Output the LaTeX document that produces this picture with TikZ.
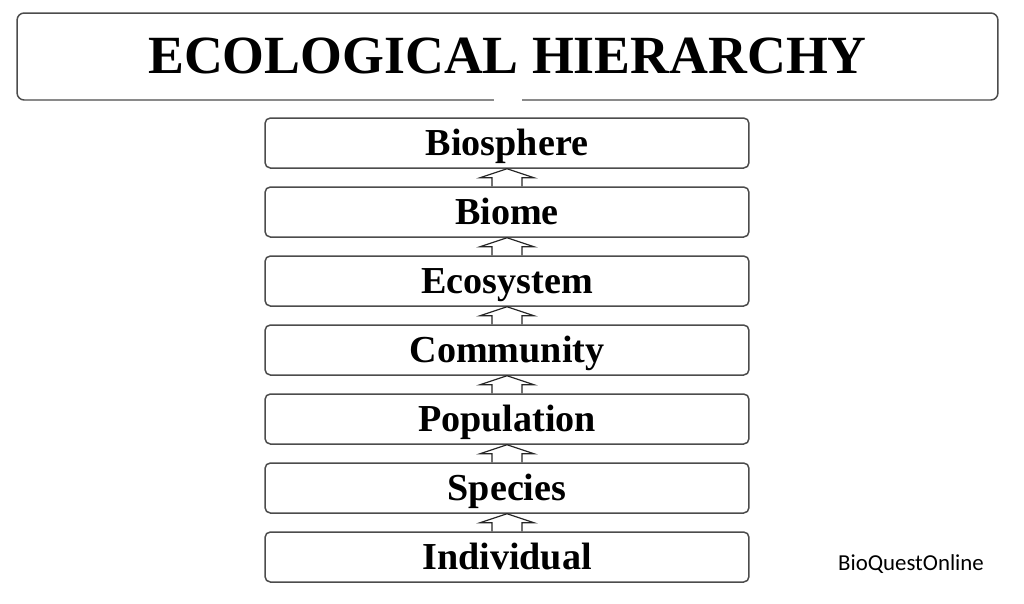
\documentclass[tikz,border=0pt]{standalone}
\usepackage{fontspec}
\setmainfont{Liberation Serif}
\newfontfamily\markfont{Carlito}
\usetikzlibrary{calc}

\begin{document}
\begin{tikzpicture}[x=0.02cm, y=-0.02cm,
  titlebox/.style={draw=black!70, line width=0.85pt, rounded corners=4pt, minimum width=19.62cm, minimum height=1.74cm, inner sep=0pt, text height=0.7cm, text depth=0.04cm, font=\fontsize{30.6}{36}\selectfont\bfseries},
  level/.style={draw=black!70, line width=0.85pt, rounded corners=3pt, minimum width=9.68cm, minimum height=1cm, inner sep=0pt, text height=0.5cm, text depth=0.02cm, font=\fontsize{21.7}{25}\selectfont\bfseries},
  uparrow/.style={draw=black!85, line width=0.7pt}]
\useasboundingbox (0,0) rectangle (1024,603);
\node[titlebox] (title) at (507.5, 56.5){ECOLOGICAL HIERARCHY};
\draw[white, line width=2pt] ($(title.south)+(-14,0)$) -- ($(title.south)+(14,0)$);
\node[level] (biosphere) at (507, 143){Biosphere};
\node[level] (biome) at (507, 212){Biome};
\node[level] (ecosystem) at (507, 281){Ecosystem};
\node[level] (community) at (507, 350){Community};
\node[level] (population) at (507, 419){Population};
\node[level] (species) at (507, 488){Species};
\node[level] (individual) at (507, 557){Individual};
\foreach \a/\b in {biosphere/biome, biome/ecosystem, ecosystem/community, community/population, population/species, species/individual}
  \draw[uparrow] ($(\b.north)+(-15,0)$) -- ($(\a.south)+(-15,9)$) -- ($(\a.south)+(-27,9)$) -- (\a.south) -- ($(\a.south)+(27,9)$) -- ($(\a.south)+(15,9)$) -- ($(\b.north)+(15,0)$);
\node[font=\markfont\fontsize{13}{15}\selectfont] (mark) at (911, 564){BioQuestOnline};
\end{tikzpicture}
\end{document}
